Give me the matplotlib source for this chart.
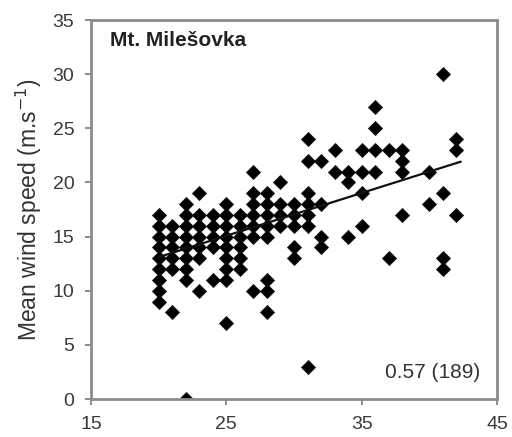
import matplotlib
matplotlib.use("Agg")
import matplotlib.pyplot as plt
import numpy as np

plt.rcParams['font.family'] = ['Liberation Sans', 'DejaVu Sans']

# data: (x, mean wind speed) read per column
columns = {
    20: [17, 16, 15, 14, 13, 12, 11, 10, 9],
    21: [16, 15, 14, 13, 12, 8],
    22: [18, 17, 16, 15, 14, 13, 12, 11, 0],
    23: [19, 17, 16, 15, 14, 13, 10],
    24: [17, 16, 15, 14, 11],
    25: [18, 17, 16, 15, 14, 13, 12, 11, 7],
    26: [17, 16, 15, 14, 13, 12],
    27: [21, 19, 18, 17, 16, 15, 10],
    28: [19, 18, 17, 16, 15, 11, 10, 8],
    29: [20, 18, 17, 16],
    30: [18, 17, 16, 14, 13],
    31: [24, 22, 19, 18, 17, 16, 3],
    32: [22, 18, 15, 14],
    33: [23, 21],
    34: [21, 20, 15],
    35: [23, 21, 19, 16],
    36: [27, 25, 23, 21],
    37: [23, 13],
    38: [23, 22, 21, 17],
    40: [21, 18],
    41: [30, 19, 13, 12],
    42: [24, 23, 17],
}
x_vals = [x for x, ys in columns.items() for _ in ys]
y_vals = [y for ys in columns.values() for y in ys]

fit_slope = 0.395
fit_intercept = 5.2
fit_range = [20, 42.3]

station = "Mt. Milešovka"
stat_text = "0.57 (189)"
x_ticks = [15, 25, 35, 45]
y_ticks = [0, 5, 10, 15, 20, 25, 30, 35]

fig = plt.figure(figsize=(5.12, 4.37), dpi=100)
W, H = 512, 437
ax = fig.add_axes([91 / W, (H - 399) / H, (497 - 91) / W, (399 - 20) / H])

ax.plot(x_vals, y_vals, linestyle='none', marker='D', markersize=7.2,
        color='black', markeredgecolor='#111111', markeredgewidth=0.6)
fx = np.array(fit_range)
ax.plot(fx, fit_intercept + fit_slope * fx, color='#111111', linewidth=1.6)

ax.set_xlim(15, 45)
ax.set_ylim(0, 35)
ax.set_xticks(x_ticks)
ax.set_yticks(y_ticks)
for s in ax.spines.values():
    s.set_color('#8c8c8c')
    s.set_linewidth(2.0)
ax.tick_params(direction='out', length=4, width=1.4, color='#8c8c8c',
               labelsize=14, labelcolor='#3a3a3a', pad=8)
ax.set_ylabel("Mean wind speed (m.s$^{-1}$)", fontsize=16.5, color='#333333', labelpad=6)

ax.text(0.047, 0.947, station, transform=ax.transAxes, fontsize=15,
        fontweight='bold', color='#222222', va='center', ha='left')
ax.text(0.958, 0.069, stat_text, transform=ax.transAxes, fontsize=15,
        color='#333333', va='center', ha='right')

fig.savefig("out.png", dpi=100)
